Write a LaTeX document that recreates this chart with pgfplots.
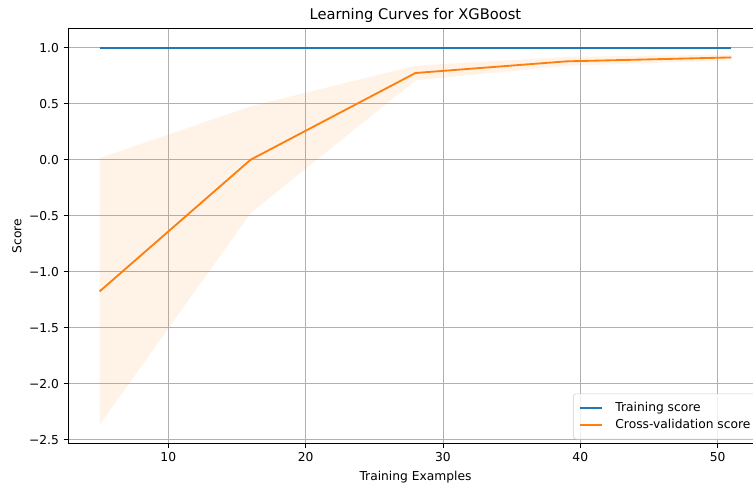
\documentclass[border=0pt]{standalone}
\usepackage{fontspec}
\setmainfont{DejaVu Sans}
\usepackage{pgfplots}
\pgfplotsset{compat=1.18}
\usepgfplotslibrary{fillbetween}
\definecolor{tabblue}{HTML}{1F77B4}
\definecolor{taborange}{HTML}{FF7F0E}
\definecolor{gridgray}{HTML}{B0B0B0}
\definecolor{legedge}{HTML}{CCCCCC}
\begin{document}
\begin{tikzpicture}
\begin{axis}[
  at={(51pt,29.6pt)}, anchor=south west,
  width=521.2pt, height=311pt, scale only axis,
  xmin=2.7, xmax=53.3, ymin=-2.534, ymax=1.168,
  xtick={10,20,30,40,50}, xticklabels={10,20,30,40,50},
  ytick={-2.5,-2,-1.5,-1,-0.5,0,0.5,1},
  yticklabels={−2.5,−2.0,−1.5,−1.0,−0.5,0.0,0.5,1.0},
  tick align=outside, major tick length=3.25pt,
  tick style={black, line width=0.6pt},
  xtick pos=left, ytick pos=left,
  grid=major, major grid style={gridgray, line width=0.6pt},
  axis line style={line width=0.6pt},
  ticklabel style={font=\fontsize{9.2}{11}\selectfont},
  title={Learning Curves for XGBoost},
  title style={font=\fontsize{11}{13}\selectfont, at={(0.5,1)}, anchor=base, yshift=1pt, inner sep=0pt},
  xlabel={Training Examples}, ylabel={Score},
  label style={font=\fontsize{9.2}{11}\selectfont},
  xlabel style={at={(axis description cs:0.5,0)}, anchor=center, yshift=-25pt},
  ylabel style={at={(axis description cs:0,0.5)}, anchor=center, yshift=38.25pt},
  legend style={at={(1,0)}, anchor=south east, xshift=-3.2pt, yshift=3.1pt,
    draw=legedge, rounded corners=2pt, fill=white, fill opacity=0.8, text opacity=1, draw opacity=1,
    font=\fontsize{9.2}{11}\selectfont, inner xsep=4pt, inner ysep=4.5pt},
  legend cell align=left,
  legend image code/.code={\draw[#1] (0cm,0cm) -- (0.58cm,0cm); \path (0.85cm,0cm);},
]
\addplot[name path=upper, draw=none, forget plot] coordinates {(5,0.014) (16,0.476) (28,0.839) (39,0.918) (51,0.938)};
\addplot[name path=lower, draw=none, forget plot] coordinates {(5,-2.366) (16,-0.476) (28,0.709) (39,0.838) (51,0.888)};
\addplot[fill=taborange, fill opacity=0.1, draw=none, forget plot] fill between[of=upper and lower];
\addplot[draw=tabblue, line width=1.39pt] coordinates {(5,1) (16,1) (28,1) (39,1) (51,1)};
\addlegendentry{Training score}
\addplot[draw=taborange, line width=1.39pt] coordinates {(5,-1.176) (16,0.0) (28,0.774) (39,0.878) (51,0.913)};
\addlegendentry{Cross-validation score}
\end{axis}
\pgfresetboundingbox
\path (0,0) rectangle (564.75pt,362.25pt);
\end{tikzpicture}
\end{document}
